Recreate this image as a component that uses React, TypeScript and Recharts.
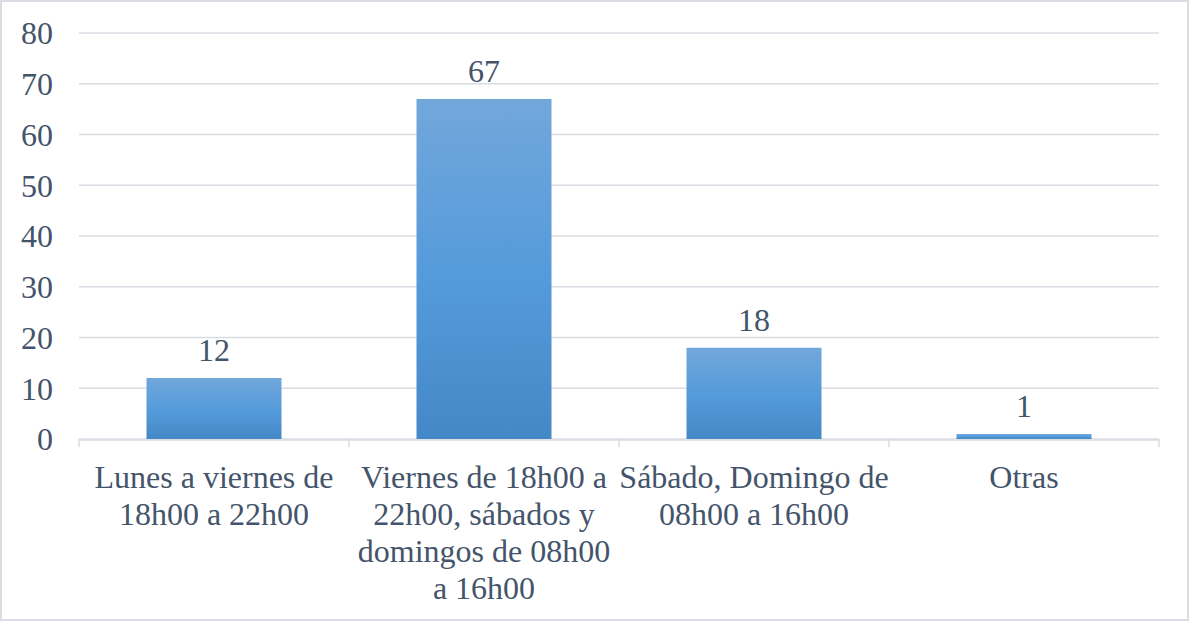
import React from 'react';
import { BarChart, Bar, XAxis, YAxis, CartesianGrid, LabelList } from 'recharts';

const categories = [
    'Lunes a viernes de\n18h00 a 22h00',
    'Viernes de 18h00 a\n22h00, sábados y\ndomingos de 08h00\na 16h00',
    'Sábado, Domingo de\n08h00 a 16h00',
    'Otras',
];
const values = [12, 67, 18, 1];
const yTicks = [0, 10, 20, 30, 40, 50, 60, 70, 80];
const boundaryTicks = [0, 1, 2, 3, 4];

const TEXT = '#44546A';
const GRID = '#D9DDE3';
const FONT = '"Liberation Serif", "Times New Roman", serif';

const data = categories.map((name, i) => ({ name, value: values[i], pos: i + 0.5 }));

const CategoryTick = (props: any) => {
    const { x, y, payload } = props;
    const lines = String(payload.value).split('\n');
    return (
        <text x={x} y={y} textAnchor="middle" fill={TEXT} fontSize={32} fontFamily={FONT}>
            {lines.map((line, i) => (
                <tspan key={i} x={x} dy={i === 0 ? 48 : 37}>{line}</tspan>
            ))}
        </text>
    );
};

const EmptyTick = () => <g />;

const App: React.FC = () => {
    return (
        <div style={{ position: 'absolute', left: 0, top: 0, width: 1189, height: 621, boxSizing: 'border-box', border: `2px solid ${GRID}`, background: '#fff' }}>
            <BarChart
                width={1185}
                height={617}
                data={data}
                barCategoryGap="25%"
                margin={{ top: 31, right: 28, left: 0, bottom: 0 }}
            >
                <CartesianGrid xAxisId="cat" horizontal vertical={false} stroke={GRID} strokeWidth={1.5} />
                {/* boundary tick marks between categories, next to the plot */}
                <XAxis
                    xAxisId="bnd"
                    dataKey="pos"
                    type="number"
                    domain={[0, 4]}
                    ticks={boundaryTicks}
                    interval={0}
                    height={1}
                    axisLine={false}
                    tick={<EmptyTick />}
                    tickSize={8}
                    tickLine={{ stroke: GRID, strokeWidth: 1.5 }}
                    orientation="bottom"
                />
                <XAxis
                    xAxisId="cat"
                    dataKey="name"
                    interval={0}
                    height={179}
                    tickLine={false}
                    tickSize={0}
                    tickMargin={0}
                    axisLine={{ stroke: GRID, strokeWidth: 1.5 }}
                    tick={<CategoryTick />}
                />
                <YAxis
                    domain={[0, 80]}
                    ticks={yTicks}
                    width={77}
                    axisLine={false}
                    tickLine={false}
                    tickSize={0}
                    tickMargin={26}
                    tick={{ fill: TEXT, fontSize: 32, fontFamily: FONT }}
                />
                <defs>
                    <linearGradient id="barGrad" x1="0" y1="0" x2="0" y2="1">
                        <stop offset="0%" stopColor="#72A7DB" />
                        <stop offset="50%" stopColor="#569BDB" />
                        <stop offset="100%" stopColor="#4488C7" />
                    </linearGradient>
                </defs>
                <Bar xAxisId="cat" dataKey="value" fill="url(#barGrad)" isAnimationActive={false}>
                    <LabelList dataKey="value" position="top" offset={17} fill={TEXT} fontSize={32} fontFamily={FONT} />
                </Bar>
            </BarChart>
        </div>
    );
};

export default App;
